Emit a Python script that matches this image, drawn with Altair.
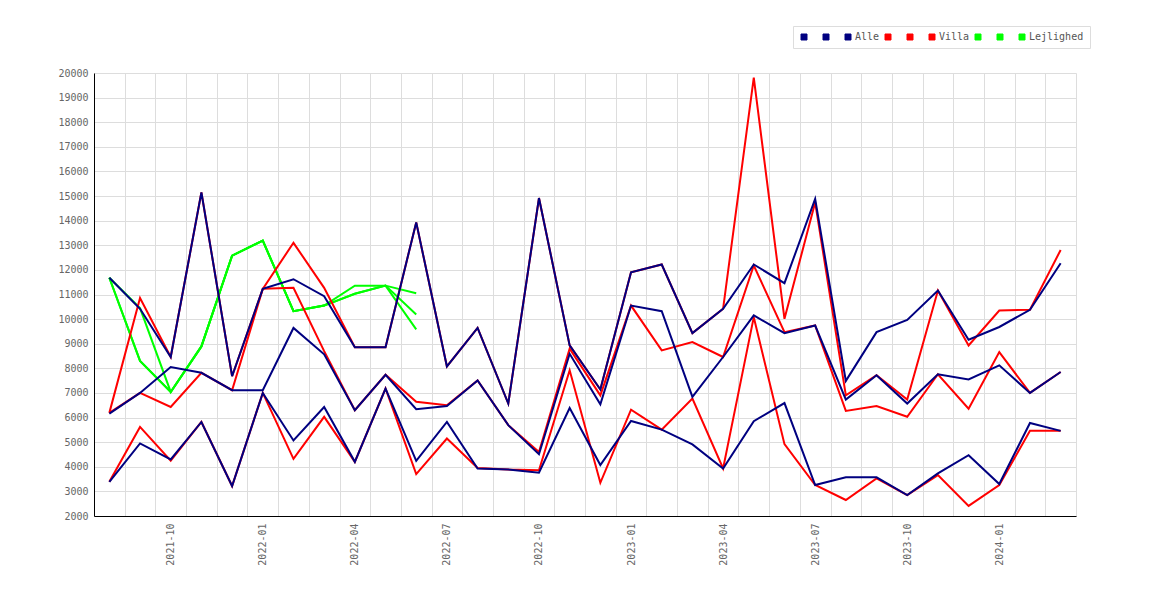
import altair as alt
import pandas as pd

months = ["2021-08", "2021-09", "2021-10", "2021-11", "2021-12", "2022-01",
          "2022-02", "2022-03", "2022-04", "2022-05", "2022-06", "2022-07",
          "2022-08", "2022-09", "2022-10", "2022-11", "2022-12", "2023-01",
          "2023-02", "2023-03", "2023-04", "2023-05", "2023-06", "2023-07",
          "2023-08", "2023-09", "2023-10", "2023-11", "2023-12", "2024-01",
          "2024-02", "2024-03"]

alle_a = [11680, 10420, 8460, 15150, 7680, 11230, 11620, 10930, 8860, 8860, 13930,
          8080, 9640, 6570, 14920, 8930, 7140, 11900, 12220, 9430, 10420, 12220,
          11460, 14880, 7490, 9470, 9970, 11160, 9160, 9680, 10380, 12270]
alle_b = [6160, 7000, 8050, 7820, 7110, 7110, 9640, 8570, 6300, 7740, 6340,
          6470, 7510, 5690, 4510, 8590, 6540, 10550, 10320, 6840, 8460, 10150,
          9430, 9740, 6730, 7720, 6570, 7760, 7550, 8120, 7000, 7850]
alle_c = [3390, 4950, 4300, 5820, 3220, 7000, 5070, 6430, 4200, 7180, 4240,
          5820, 3930, 3890, 3760, 6390, 4070, 5860, 5510, 4910, 3930, 5850,
          6590, 3260, 3570, 3570, 2850, 3730, 4470, 3300, 5780, 5460]

villa_a = [6190, 10860, 8460, 15150, 7680, 11230, 13100, 11270, 8860, 8860, 13930,
           8080, 9640, 6570, 14920, 8930, 7140, 11900, 12220, 9430, 10420, 19810,
           10010, 14740, 6900, 7720, 6730, 11160, 8930, 10350, 10380, 12810]
villa_b = [6190, 7000, 6430, 7820, 7110, 11230, 11270, 8700, 6300, 7740, 6640,
           6500, 7510, 5690, 4600, 8800, 6900, 10550, 8730, 9070, 8460, 12180,
           9470, 9740, 6270, 6470, 6030, 7760, 6360, 8660, 7000, 7850]
villa_c = [3390, 5620, 4250, 5820, 3220, 7000, 4320, 6030, 4200, 7180, 3700,
           5150, 3950, 3890, 3860, 7920, 3350, 6320, 5510, 6770, 3930, 10080,
           4920, 3260, 2650, 3530, 2850, 3660, 2410, 3260, 5460, 5460]

lejl_a = [11680, 10450, 7040, 8890, 12580, 13190, 10320, 10550, 11360, 11360, 11050]
lejl_b = [11680, 8300, 7040, 8890, 12580, 13190, 10320, 10550, 11030, 11360, 10190]
lejl_c = [11680, 8300, 7040, 8890, 12580, 13190, 10320, 10550, 11030, 11360, 9580]

keys = ["a1", "a2", "Alle", "v1", "v2", "Villa", "l1", "l2", "Lejlighed"]
colors = ["#000080"] * 3 + ["#ff0000"] * 3 + ["#00ff00"] * 3
label_idx = [2, 5, 8, 11, 14, 17, 20, 23, 26, 29]


def frame(key, vals):
    return pd.DataFrame({"idx": list(range(len(vals))), "key": key, "value": vals})


df_alle = pd.concat([frame("a1", alle_a), frame("a2", alle_b), frame("Alle", alle_c)])
df_villa = pd.concat([frame("v1", villa_a), frame("v2", villa_b), frame("Villa", villa_c)])
df_lejl = pd.concat([frame("l1", lejl_a), frame("l2", lejl_b), frame("Lejlighed", lejl_c)])
df_all = pd.concat([df_alle, df_villa, df_lejl])

FONT = "DejaVu Sans Mono"
xscale = alt.Scale(domain=[-0.5, len(months) - 0.5], nice=False, zero=False)
yscale = alt.Scale(domain=[2000, 20000], nice=False, zero=False)

month_arr = "[" + ",".join("'" + m + "'" for m in months) + "]"

grid_axis = alt.Axis(values=[i - 0.5 for i in range(len(months) + 1)], labels=False,
                     ticks=False, grid=True, gridColor="#dddddd", domain=True,
                     domainColor="#000000", title=None, orient="bottom")
label_axis = alt.Axis(values=label_idx, labelExpr=month_arr + "[datum.value]",
                      grid=False, ticks=False, domain=False, labelAngle=270,
                      labelFont=FONT, labelFontSize=10, labelColor="#666666",
                      labelPadding=7, title=None, orient="bottom")
yaxis = alt.Axis(values=list(range(2000, 20001, 1000)), format="d", grid=True,
                 gridColor="#dddddd", ticks=False, domain=True, domainColor="#000000",
                 labelFont=FONT, labelFontSize=10, labelColor="#666666", labelPadding=6,
                 title=None)

legend = alt.Legend(
    title=None, orient="none", legendX=699, legendY=-47, direction="horizontal",
    columns=9, symbolType="square", symbolSize=36, columnPadding=3,
    labelExpr="length(datum.label) < 3 ? '\u2800' : datum.label",
    labelFont=FONT, labelFontSize=10, labelColor="#555555", labelOffset=2,
    strokeColor="#dddddd", padding=6, fillColor="#ffffff",
    symbolOpacity=1, symbolStrokeColor="#555555", symbolStrokeWidth=1,
)
color = alt.Color("key:N", scale=alt.Scale(domain=keys, range=colors), legend=legend,
                  sort=keys)


def layer(df, xaxis):
    return alt.Chart(df).mark_line(strokeWidth=2, strokeJoin="miter").encode(
        x=alt.X("idx:Q", scale=xscale, axis=xaxis),
        y=alt.Y("value:Q", scale=yscale, axis=yaxis),
        color=color,
        detail="key:N",
    )


legend_layer = alt.Chart(df_all).mark_point(filled=True, shape="square", opacity=0).encode(
    x=alt.X("idx:Q", scale=xscale, axis=None),
    y=alt.Y("value:Q", scale=yscale, axis=yaxis),
    color=color,
)

chart = alt.layer(
    legend_layer,
    layer(df_lejl, grid_axis),
    layer(df_villa, label_axis),
    layer(df_alle, None),
).resolve_axis(x="independent").properties(
    width=982, height=443,
    autosize=alt.AutoSizeParams(type="none"),
    padding={"left": 86, "top": 65, "right": 80, "bottom": 70},
).configure_view(stroke=None)

chart.save("out.html", embed_options={"renderer": "svg", "actions": False})
